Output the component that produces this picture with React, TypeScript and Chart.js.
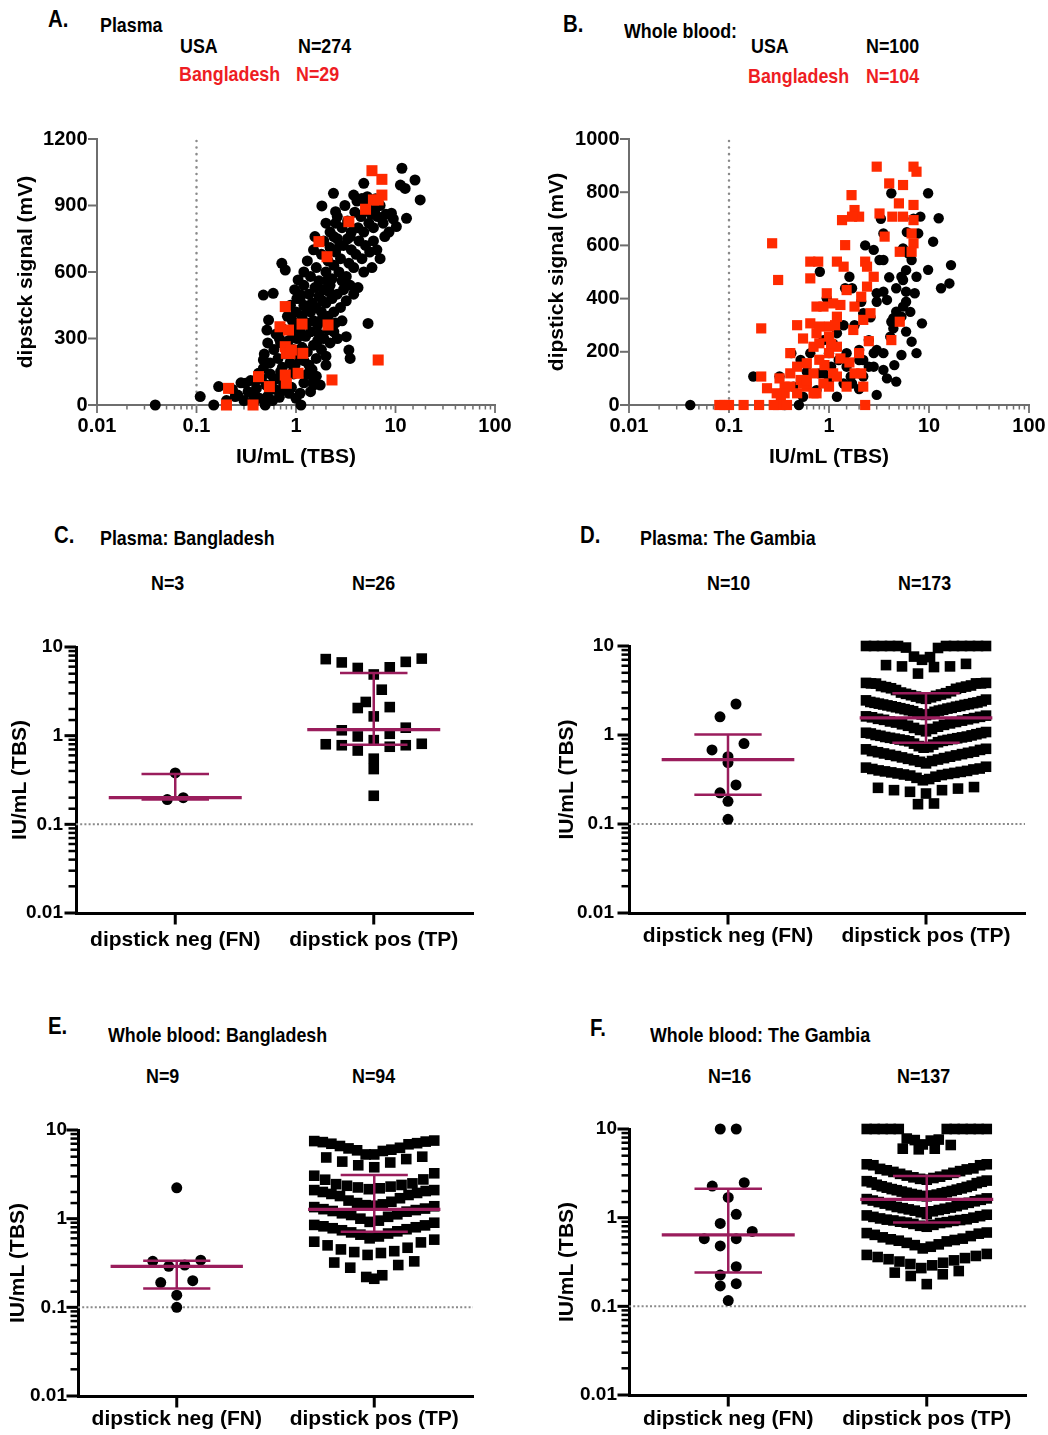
import React, { useEffect, useRef } from 'react';
import { Chart, registerables } from 'chart.js';

Chart.register(...registerables);

// ---------------- colours & fonts ----------------
const FONT = '"Liberation Sans", Arial, Helvetica, sans-serif';
const BLACK = '#000000';
const RED_MARK = '#ff2a00';
const RED_TEXT = '#ee1d23';
const BAR = '#9a1d5c';
const AXIS_GRAY = '#6e6e6e';
const DOT_GRAY = '#8a8a8a';

// ---------------- data ----------------
const CATEGORIES = ['dipstick neg (FN)', 'dipstick pos (TP)'];
const X_LOG_LABELS = ['0.01', '0.1', '1', '10', '100'];
const Y_LOG_LABELS = ['0.01', '0.1', '1', '10'];
const A_Y_MAX = 1200;
const A_Y_STEP = 300;
const B_Y_MAX = 1000;
const B_Y_STEP = 200;
const LOD = 0.1;

// Panel A: Plasma, USA (IU/mL, mV)
const A_USA: number[][] = [
  [0.0385, 0], [0.109, 38], [0.167, 83], [0.149, 0], [0.245, 38], [0.31, 98], [0.4, 113], [0.37, 45], [0.49, 0], [0.47, 203],
  [0.47, 496], [0.59, 504], [0.53, 383], [0.51, 338], [0.72, 346], [0.72, 639], [0.78, 609], [1.1, 53], [1.12, 0], [1.05, 564],
  [1.12, 496], [1.82, 898], [2.38, 955], [2.5, 872], [2.0, 820], [2.5, 820], [5.3, 368], [3.5, 210], [3.4, 248], [3.2, 308],
  [11.6, 1068], [15.7, 1015], [17.7, 925], [11.2, 992], [12.5, 977], [12.9, 842], [10.2, 805], [9.1, 865], [4.8, 1000], [3.8, 947],
  [4.6, 932], [1.75, 90], [2.0, 180], [1.5, 113], [1.5, 90], [0.85, 53], [0.74, 68], [0.6, 113], [0.47, 165], [0.42, 143],
  [0.2, 20], [0.23, 70], [0.26, 45], [0.28, 100], [0.3, 20], [0.33, 60], [0.35, 110], [0.38, 15], [0.4, 75], [0.43, 30],
  [0.45, 120], [0.5, 90], [0.52, 40], [0.55, 140], [0.58, 20], [0.62, 70], [0.65, 120], [0.68, 35], [0.7, 150], [0.75, 95],
  [0.8, 130], [0.9, 80], [0.95, 140], [1.0, 30], [1.2, 100], [1.3, 140], [1.4, 60], [1.6, 130],
  [0.48, 230], [0.52, 280], [0.55, 190], [0.6, 250], [0.63, 320], [0.66, 210], [0.7, 280], [0.73, 170], [0.76, 340], [0.8, 230],
  [0.84, 290], [0.87, 190], [0.9, 330], [0.94, 250], [0.98, 180], [1.02, 300], [1.06, 220], [1.1, 340], [1.15, 260], [1.2, 200],
  [1.25, 310], [1.3, 240], [1.35, 180], [1.4, 330], [1.5, 270], [1.6, 210], [1.7, 320], [1.8, 250], [1.9, 300], [2.0, 220],
  [2.1, 340], [2.2, 280], [2.4, 330], [2.6, 300], [0.95, 160], [1.45, 160], [0.68, 300], [1.65, 290],
  [0.82, 400], [0.88, 450], [0.92, 380], [0.97, 520], [1.0, 420], [1.05, 360], [1.1, 480], [1.15, 400], [1.2, 540], [1.25, 440],
  [1.3, 370], [1.35, 500], [1.4, 420], [1.45, 460], [1.5, 380], [1.55, 530], [1.6, 440], [1.7, 490], [1.75, 380], [1.8, 420],
  [1.9, 520], [2.0, 460], [2.1, 400], [2.2, 540], [2.3, 480], [2.4, 420], [2.6, 500], [2.8, 440], [3.0, 520], [3.2, 470],
  [3.5, 540], [3.8, 500], [4.2, 530], [2.5, 370], [2.9, 380], [1.65, 360], [1.85, 470], [2.15, 510], [1.2, 450], [1.02, 480],
  [1.2, 600], [1.3, 650], [1.4, 580], [1.5, 700], [1.6, 620], [1.7, 560], [1.8, 680], [1.9, 740], [2.0, 600], [2.1, 650],
  [2.2, 710], [2.3, 570], [2.4, 630], [2.5, 690], [2.6, 750], [2.7, 600], [2.8, 660], [3.0, 720], [3.2, 580], [3.4, 640],
  [3.6, 700], [3.8, 620], [4.0, 680], [4.3, 740], [4.6, 660], [5.0, 720], [5.5, 690], [6.0, 740], [6.5, 700], [7.0, 660],
  [1.55, 760], [2.9, 560], [3.3, 750], [4.8, 600], [5.8, 620], [2.05, 560], [2.75, 720],
  [2.2, 780], [2.6, 850], [2.9, 800], [3.1, 900], [3.3, 830], [3.6, 780], [3.9, 870], [4.2, 800], [4.5, 850], [4.8, 780],
  [5.1, 900], [5.4, 820], [5.7, 860], [6.0, 800], [6.3, 930], [6.6, 850], [7.0, 900], [7.5, 820], [8.0, 860], [8.6, 780],
  [9.5, 840], [5.2, 940], [6.2, 880], [4.1, 920], [3.5, 760], [7.8, 760], [2.4, 760],
];

// Panel A: Plasma, Bangladesh
const A_BGD: number[][] = [
  [5.8, 1057], [7.3, 1018], [7.3, 947], [6.0, 925], [6.7, 925], [5.0, 883], [3.4, 827], [1.7, 737], [2.05, 669], [0.78, 444],
  [0.69, 353], [0.84, 338], [1.15, 365], [2.1, 361], [0.78, 263], [0.8, 233], [0.87, 233], [1.17, 233], [0.9, 248], [0.78, 135],
  [0.8, 98], [1.05, 143], [6.7, 203], [2.3, 113], [0.42, 128], [0.54, 83], [0.21, 75], [0.2, 0], [0.37, 0],
];

// Panel B: Whole blood, USA
const B_USA: number[][] = [
  [0.041, 0], [0.175, 107], [0.32, 107], [0.36, 0], [0.5, 0], [0.42, 195], [0.81, 501], [0.95, 401], [1.6, 482], [1.45, 439],
  [1.7, 439], [4.2, 796], [9.8, 796], [12.5, 702], [11.0, 614], [8.2, 708], [7.8, 645], [3.5, 645], [2.8, 583], [3.2, 545],
  [3.5, 545], [5.5, 589], [7.5, 482], [9.8, 508], [16.6, 526], [16.0, 457], [13.2, 439], [8.5, 307], [5.5, 470], [4.7, 439],
  [5.9, 426], [3.5, 426], [3.0, 420], [5.9, 388], [5.5, 370], [4.7, 351], [4.2, 313], [4.4, 288], [5.9, 276], [6.7, 238],
  [5.3, 188], [4.7, 88], [3.0, 38], [1.2, 31], [1.4, 81], [1.65, 107], [1.7, 81], [2.8, 195], [2.5, 244], [2.8, 144],
  [3.5, 132], [2.5, 144], [2.2, 169], [2.0, 207], [2.0, 169], [1.5, 144], [1.25, 169], [1.0, 195], [1.05, 144], [0.88, 119],
  [0.75, 56], [0.8, 119], [1.0, 94], [1.5, 195], [2.2, 107], [3.0, 207], [3.5, 195], [4.4, 326], [5.3, 332], [4.1, 257],
  [2.1, 388], [2.2, 345], [3.8, 395], [6.7, 545], [7.5, 195], [3.0, 388], [1.2, 270], [0.88, 244], [0.65, 195], [0.6, 125],
  [0.52, 169], [0.44, 69], [0.55, 31], [6.2, 570], [5.9, 507], [5.3, 482], [7.0, 700], [6.0, 650], [4.0, 480], [2.6, 330],
  [1.8, 300], [3.3, 700], [2.3, 600], [1.4, 300], [6.5, 350], [4.5, 150], [3.8, 100], [2.0, 60], [1.1, 230], [7.2, 420],
];

// Panel B: Whole blood, Bangladesh
const B_BGD: number[][] = [
  [3.0, 896], [7.0, 896], [7.5, 877], [5.5, 827], [4.0, 833], [5.0, 758], [7.0, 752], [4.3, 708], [3.2, 720], [5.5, 708],
  [7.0, 695], [6.7, 645], [7.0, 608], [6.7, 576], [5.1, 576], [3.6, 633], [1.68, 789], [1.8, 733], [2.0, 708], [1.7, 708],
  [1.35, 695], [1.45, 601], [1.2, 539], [2.3, 539], [2.8, 482], [2.4, 445], [2.1, 407], [1.8, 370], [2.6, 345], [2.2, 320],
  [1.75, 282], [1.3, 376], [1.1, 382], [1.2, 332], [1.0, 295], [1.0, 257], [1.2, 219], [1.3, 175], [0.75, 370], [0.65, 307],
  [0.75, 270], [0.7, 219], [0.8, 170], [0.7, 119], [0.6, 69], [0.52, 94], [0.48, 300], [0.41, 195], [0.41, 119], [0.36, 69],
  [0.33, 31], [0.31, 0], [0.38, 0], [0.28, 0], [0.2, 0], [0.14, 0], [0.1, 0], [0.08, 0], [0.09, 0], [0.21, 107],
  [0.24, 63], [0.21, 288], [0.31, 470], [0.27, 608], [0.65, 476], [0.65, 539], [0.78, 539], [1.1, 119], [1.0, 69], [0.88, 81],
  [1.2, 107], [1.5, 69], [1.8, 119], [2.1, 119], [2.2, 69], [2.3, 0], [2.0, 195], [4.2, 244], [5.1, 313], [0.8, 232],
  [0.8, 295], [0.48, 144], [0.6, 157], [0.55, 81], [0.36, 44], [0.3, 44], [0.88, 370], [1.0, 195], [0.6, 94], [0.75, 44],
  [1.5, 432], [0.41, 69], [0.48, 44], [0.7, 44], [2.4, 520], [1.4, 520], [0.9, 150], [1.6, 160], [0.55, 250], [1.15, 300],
  [2.5, 240], [0.32, 100], [0.95, 420], [1.05, 230],
];

// Panel C: Plasma Bangladesh (IU/mL)
const C_NEG = [0.38, 0.19, 0.2];
const C_POS = [7.4, 6.8, 5.8, 4.9, 5.9, 6.7, 7.3, 3.3, 2.1, 2.05, 2.4, 1.65, 1.15, 1.05, 1.23, 0.8, 0.78, 0.89, 0.75, 0.78,
  0.81, 0.98, 0.68, 0.55, 0.42, 0.21];
const C_NEG_BAR = [0.2, 0.19, 0.37]; // median, low, high
const C_POS_BAR = [1.17, 0.79, 5.1];

// Panel D: Plasma The Gambia
const D_NEG = [2.23, 1.6, 0.8, 0.68, 0.57, 0.49, 0.275, 0.224, 0.18, 0.113];
const D_POS = [
  10, 10, 10, 10, 10, 10, 10, 10, 10, 10, 10, 9.6, 9.5, 7.6, 7.5,
  7.0, 6.3, 6.1, 5.9, 5.9, 5.8, 4.9,
  3.85, 3.85, 3.8, 3.8, 3.8, 3.78,
  3.6, 3.55, 3.5, 3.45, 3.4, 3.35, 3.3, 3.2, 3.1, 3.0, 2.95, 2.9, 2.85, 2.8, 2.75, 2.7, 2.65, 2.6, 2.55, 2.5, 2.45, 2.4,
  2.35, 2.32, 2.3, 2.28, 2.25, 2.22, 2.2, 2.18, 2.15, 2.12, 2.1, 2.08, 2.05, 2.02, 2.0, 1.98, 1.95, 1.92, 1.9, 1.88, 1.85, 1.82,
  1.75, 1.72, 1.7, 1.68, 1.65, 1.62, 1.6, 1.58, 1.55, 1.52, 1.5, 1.48, 1.45, 1.42, 1.4, 1.38, 1.35, 1.32, 1.3, 1.27, 1.24, 1.2, 1.17, 1.14,
  1.1, 1.08, 1.06, 1.05, 1.04, 1.02, 1.0, 0.99, 0.98, 0.96, 0.95, 0.94, 0.93, 0.92, 0.91, 0.9, 0.89, 0.88, 0.87, 0.86, 0.85, 0.83,
  0.8, 0.78,
  0.75, 0.73, 0.72, 0.7, 0.69, 0.68, 0.66, 0.65, 0.64, 0.63, 0.62, 0.61, 0.6, 0.59, 0.58, 0.57, 0.56, 0.55, 0.54, 0.53, 0.52, 0.51, 0.5, 0.48,
  0.44, 0.43, 0.42, 0.415, 0.41, 0.4, 0.395, 0.39, 0.385, 0.38, 0.375, 0.37, 0.365, 0.36, 0.355, 0.35, 0.34, 0.33, 0.32, 0.31,
  0.26, 0.255, 0.25, 0.24, 0.24, 0.23, 0.22,
  0.17, 0.167,
];
const D_NEG_BAR = [0.53, 0.213, 1.01];
const D_POS_BAR = [1.56, 0.82, 2.94];

// Panel E: Whole blood Bangladesh
const E_NEG = [2.23, 0.33, 0.29, 0.3, 0.34, 0.2, 0.19, 0.137, 0.1];
const E_POS = [
  7.6, 7.5, 7.4, 7.3, 7.1, 6.9, 6.6, 6.3, 6.0, 5.8, 5.9, 6.2, 7.0,
  5.3, 5.3, 5.0, 4.9, 4.7, 4.4, 4.3, 4.0, 3.8,
  3.25, 3.05, 2.77, 2.75,
  2.5, 2.45, 2.4, 2.35, 2.3, 2.25, 2.2, 2.15, 2.1, 2.1, 2.05, 2.0, 1.95, 1.9, 1.85, 1.8, 1.7, 1.6,
  1.55, 1.5, 1.45, 1.42, 1.4, 1.38, 1.35, 1.3, 1.28, 1.25, 1.22, 1.2, 1.15, 1.12, 1.1, 1.05,
  1.0, 0.95, 0.92, 0.9,
  0.85, 0.84, 0.82, 0.8, 0.78, 0.76, 0.74, 0.72, 0.7, 0.68, 0.66, 0.63, 0.6, 0.58,
  0.55, 0.54, 0.5, 0.47, 0.45, 0.43, 0.42, 0.41, 0.39,
  0.33, 0.32, 0.3, 0.28,
  0.23, 0.22, 0.21,
];
const E_NEG_BAR = [0.29, 0.163, 0.335];
const E_POS_BAR = [1.27, 0.71, 3.1];

// Panel F: Whole blood The Gambia
const F_NEG = [10, 10, 2.48, 2.27, 1.69, 1.09, 0.86, 0.7, 0.58, 0.58, 0.48, 0.28, 0.225, 0.18, 0.17, 0.116];
const F_POS = [
  10, 10, 10, 10, 10, 10, 10, 10, 10, 10, 10, 7.6, 7.5,
  7.8, 7.4, 6.7, 6.6, 6.0, 6.0, 5.9,
  4.0, 4.0, 3.9, 3.9,
  3.6, 3.55, 3.5, 3.42, 3.35, 3.28, 3.2, 3.12, 3.05, 2.98, 2.9, 2.85, 2.8, 2.74, 2.68, 2.62, 2.58, 2.54, 2.5, 2.45,
  2.35, 2.3, 2.26, 2.22, 2.18, 2.14, 2.1, 2.07, 2.04, 2.0, 1.97, 1.94, 1.91, 1.88, 1.85, 1.82, 1.8, 1.78, 1.76, 1.74,
  1.65, 1.62, 1.59, 1.56, 1.53, 1.5, 1.47, 1.44, 1.41, 1.38, 1.35, 1.32, 1.3, 1.28, 1.26, 1.24, 1.22, 1.2, 1.18, 1.15,
  1.1, 1.08, 1.06, 1.04, 1.02, 1.0, 0.98, 0.96, 0.95, 0.94, 0.93, 0.92, 0.9, 0.89, 0.88, 0.87, 0.85, 0.83, 0.81, 0.79,
  0.68, 0.67, 0.66, 0.64, 0.62, 0.6, 0.58, 0.57, 0.56, 0.55, 0.54, 0.52, 0.5, 0.49, 0.47, 0.45,
  0.39, 0.38, 0.37, 0.36, 0.35, 0.34, 0.33, 0.32, 0.31, 0.3, 0.29, 0.27, 0.25, 0.24, 0.23, 0.22,
  0.178,
];
const F_NEG_BAR = [0.64, 0.24, 2.12];
const F_POS_BAR = [1.61, 0.88, 2.95];

// ---------------- text labels ----------------
const LABELS: { text: string; x: number; base: number; size: number; color?: string }[] = [
  { text: 'A.', x: 48, base: 27, size: 24 },
  { text: 'Plasma', x: 100, base: 32, size: 21 },
  { text: 'USA', x: 180, base: 53, size: 21 },
  { text: 'N=274', x: 298, base: 53, size: 21 },
  { text: 'Bangladesh', x: 179, base: 81, size: 21, color: RED_TEXT },
  { text: 'N=29', x: 296, base: 81, size: 21, color: RED_TEXT },
  { text: 'B.', x: 563, base: 32, size: 24 },
  { text: 'Whole blood:', x: 624, base: 38, size: 21 },
  { text: 'USA', x: 751, base: 53, size: 21 },
  { text: 'N=100', x: 866, base: 53, size: 21 },
  { text: 'Bangladesh', x: 748, base: 83, size: 21, color: RED_TEXT },
  { text: 'N=104', x: 866, base: 83, size: 21, color: RED_TEXT },
  { text: 'C.', x: 54, base: 543, size: 24 },
  { text: 'Plasma: Bangladesh', x: 100, base: 545, size: 21 },
  { text: 'N=3', x: 151, base: 590, size: 21 },
  { text: 'N=26', x: 352, base: 590, size: 21 },
  { text: 'D.', x: 580, base: 543, size: 24 },
  { text: 'Plasma: The Gambia', x: 640, base: 545, size: 21 },
  { text: 'N=10', x: 707, base: 590, size: 21 },
  { text: 'N=173', x: 898, base: 590, size: 21 },
  { text: 'E.', x: 48, base: 1034, size: 24 },
  { text: 'Whole blood: Bangladesh', x: 108, base: 1042, size: 21 },
  { text: 'N=9', x: 146, base: 1083, size: 21 },
  { text: 'N=94', x: 352, base: 1083, size: 21 },
  { text: 'F.', x: 590, base: 1036, size: 24 },
  { text: 'Whole blood: The Gambia', x: 650, base: 1042, size: 21 },
  { text: 'N=16', x: 708, base: 1083, size: 21 },
  { text: 'N=137', x: 897, base: 1083, size: 21 },
];

// ---------------- helpers ----------------
const axisTicksPlugin = {
  id: 'axisTicks',
  beforeDatasetsDraw(chart: any, _args: any, opts: any) {
    const ctx = chart.ctx;
    ['x', 'y'].forEach((id) => {
      const o = opts[id];
      const s = chart.scales[id];
      if (!o || !s) return;
      ctx.save();
      ctx.strokeStyle = o.color;
      ctx.lineCap = 'butt';
      s.ticks.forEach((t: any) => {
        const v = t.value;
        let major = true;
        if (o.log) {
          const l = Math.log10(v);
          major = Math.abs(l - Math.round(l)) < 1e-6;
        }
        const len = major ? o.major : o.minor;
        if (!len) return;
        ctx.lineWidth = major ? o.width : o.minorWidth;
        const p = s.getPixelForValue(v);
        ctx.beginPath();
        if (id === 'x') {
          ctx.moveTo(p, s.top);
          ctx.lineTo(p, s.top + o.inset + len);
        } else {
          ctx.moveTo(s.right, p);
          ctx.lineTo(s.right - o.inset - len, p);
        }
        ctx.stroke();
      });
      ctx.restore();
    });
  },
};

function logLabel(labels: string[], minExp: number) {
  return (value: number) => {
    const l = Math.log10(value);
    const r = Math.round(l);
    if (Math.abs(l - r) > 1e-6) return '';
    return labels[r - minExp] ?? '';
  };
}

function swarm(values: number[], center: number, pxPerUnit: number, pxPerDecade: number,
  rowPx: number, gapPx: number, maxSpanPx: number) {
  const sorted = values.slice().sort((a, b) => b - a);
  const out: { x: number; y: number }[] = [];
  const rowDec = rowPx / pxPerDecade;
  let i = 0;
  while (i < sorted.length) {
    const top = Math.log10(sorted[i]);
    const row: number[] = [];
    while (i < sorted.length && top - Math.log10(sorted[i]) < rowDec) {
      row.push(sorted[i]);
      i++;
    }
    row.sort((a, b) => a - b);
    const n = row.length;
    const gap = n > 1 ? Math.min(gapPx, maxSpanPx / (n - 1)) : 0;
    const slots = Array.from({ length: n }, (_, k) => (k - (n - 1) / 2) * gap);
    slots.sort((a, b) => Math.abs(a) - Math.abs(b) || a - b);
    row.forEach((v, k) => out.push({ x: center + slots[k] / pxPerUnit, y: v }));
  }
  return out;
}

function canvasBox(p: any) {
  const [l, t, r, b] = p.area;
  const x = l - p.yW;
  const y = t - 20;
  return { x, y, w: r + p.padR - x, h: b + p.xH - y };
}

const tickFont = (size: number) => ({ family: FONT, size, weight: 'bold' as const });
const titleFont = { family: FONT, size: 21, weight: 'bold' as const, lineHeight: 1 };

function scatterConfig(p: any) {
  const box = canvasBox(p);
  const yTitlePad = p.yTitleCx - box.x - 10.5;
  const xTitlePad = box.y + box.h - p.xTitleCy - 10.5;
  return {
    type: 'scatter',
    data: {
      datasets: [
        {
          label: 'Bangladesh', data: p.bgd.map((d: number[]) => ({ x: d[0], y: d[1] })),
          pointStyle: 'rect', pointRadius: p.sqR, pointBackgroundColor: RED_MARK, backgroundColor: RED_MARK,
          pointBorderWidth: 0, borderWidth: 0, showLine: false, order: 0, clip: false,
        },
        {
          label: 'USA', data: p.usa.map((d: number[]) => ({ x: d[0], y: d[1] })),
          pointStyle: 'circle', pointRadius: p.cirR, pointBackgroundColor: BLACK, backgroundColor: BLACK,
          pointBorderWidth: 0, borderWidth: 0, showLine: false, order: 1, clip: false,
        },
        {
          type: 'line', label: 'LoD', data: [{ x: LOD, y: 0 }, { x: LOD, y: p.yMax }],
          borderColor: DOT_GRAY, borderWidth: 2.5, borderDash: [0.1, 6.5], borderCapStyle: 'round',
          pointRadius: 0, showLine: true, order: 2, clip: false,
        },
      ],
    },
    options: {
      animation: false, responsive: false, devicePixelRatio: 1, events: [],
      layout: { padding: { left: 0, top: 20, right: p.padR, bottom: 0 } },
      plugins: {
        legend: { display: false }, tooltip: { enabled: false },
        axisTicks: {
          x: { log: true, major: 8, minor: 4.5, width: 1.8, minorWidth: 1.5, color: AXIS_GRAY, inset: 0 },
          y: { log: false, major: 9, minor: 0, width: 2, minorWidth: 2, color: AXIS_GRAY, inset: 0 },
        },
      },
      scales: {
        x: {
          type: 'logarithmic', position: 'bottom', min: 0.01, max: 100,
          grid: { display: false, drawTicks: false },
          border: { display: true, color: AXIS_GRAY, width: 2 },
          ticks: {
            autoSkip: false, maxRotation: 0, minRotation: 0, padding: 9.5, color: BLACK,
            font: tickFont(20), callback: logLabel(X_LOG_LABELS, -2),
          },
          title: { display: true, text: 'IU/mL (TBS)', color: BLACK, font: titleFont, padding: { top: 0, bottom: xTitlePad } },
          afterFit: (s: any) => { s.height = p.xH; s.paddingLeft = 0; s.paddingRight = 0; s.paddingTop = 0; s.paddingBottom = 0; },
        },
        y: {
          type: 'linear', position: 'left', min: 0, max: p.yMax,
          grid: { display: false, drawTicks: false },
          border: { display: true, color: AXIS_GRAY, width: 2 },
          ticks: { stepSize: p.yStep, autoSkip: false, padding: 9.5, color: BLACK, font: tickFont(20), callback: (v: number) => String(v) },
          title: { display: true, text: p.yTitle, color: BLACK, font: titleFont, padding: { top: yTitlePad, bottom: 0 } },
          afterFit: (s: any) => { s.width = p.yW; s.paddingLeft = 0; s.paddingRight = 0; s.paddingTop = 0; s.paddingBottom = 0; },
        },
      },
    },
    plugins: [axisTicksPlugin],
  };
}

function barSets(c: number, bar: number[]) {
  const [med, lo, hi] = bar;
  const base = { type: 'line', borderColor: BAR, pointRadius: 0, showLine: true, order: 0, clip: false, borderCapStyle: 'butt' };
  return [
    { ...base, label: 'median', borderWidth: 3.2, data: [{ x: c - 0.335, y: med }, { x: c + 0.335, y: med }] },
    { ...base, label: 'high', borderWidth: 2.5, data: [{ x: c - 0.17, y: hi }, { x: c + 0.17, y: hi }] },
    { ...base, label: 'low', borderWidth: 2.5, data: [{ x: c - 0.17, y: lo }, { x: c + 0.17, y: lo }] },
    { ...base, label: 'range', borderWidth: 2.5, data: [{ x: c, y: lo }, { x: c, y: hi }] },
  ];
}

function dotConfig(p: any) {
  const box = canvasBox(p);
  const [l, t, r, b] = p.area;
  const pxPerUnit = (r - l) / 2;
  const pxPerDecade = (b - t) / 3;
  const neg = swarm(p.neg, 0, pxPerUnit, pxPerDecade, 16, 16, 120);
  const pos = swarm(p.pos, 1, pxPerUnit, pxPerDecade, 16, 16, 120);
  const yTitlePad = p.yTitleCx - box.x - 10.5;
  return {
    type: 'scatter',
    data: {
      datasets: [
        ...barSets(0, p.negBar),
        ...barSets(1, p.posBar),
        {
          label: 'FN', data: neg, pointStyle: 'circle', pointRadius: 5.5, pointBackgroundColor: BLACK,
          backgroundColor: BLACK, pointBorderWidth: 0, borderWidth: 0, showLine: false, order: 1, clip: false,
        },
        {
          label: 'TP', data: pos, pointStyle: 'rect', pointRadius: 7.5, pointBackgroundColor: BLACK,
          backgroundColor: BLACK, pointBorderWidth: 0, borderWidth: 0, showLine: false, order: 1, clip: false,
        },
        {
          type: 'line', label: 'LoD', data: [{ x: -0.5, y: LOD }, { x: 1.5, y: LOD }],
          borderColor: DOT_GRAY, borderWidth: 2, borderDash: [2, 2.2], pointRadius: 0, showLine: true, order: 2, clip: false,
        },
      ],
    },
    options: {
      animation: false, responsive: false, devicePixelRatio: 1, events: [],
      layout: { padding: { left: 0, top: 20, right: p.padR, bottom: 0 } },
      plugins: {
        legend: { display: false }, tooltip: { enabled: false },
        axisTicks: {
          x: { log: false, major: 10, minor: 0, width: 3, minorWidth: 3, color: BLACK, inset: 1.5 },
          y: { log: true, major: 10, minor: 6, width: 3, minorWidth: 2.5, color: BLACK, inset: 1.5 },
        },
      },
      scales: {
        x: {
          type: 'linear', position: 'bottom', min: -0.5, max: 1.5,
          afterBuildTicks: (s: any) => { s.ticks = CATEGORIES.map((_, i) => ({ value: i })); },
          grid: { display: false, drawTicks: false },
          border: { display: true, color: BLACK, width: 3 },
          ticks: {
            autoSkip: false, maxRotation: 0, minRotation: 0, padding: p.labelPad, color: BLACK,
            font: tickFont(21), callback: (v: number) => CATEGORIES[Math.round(v)] ?? '',
          },
          afterFit: (s: any) => { s.height = p.xH; s.paddingLeft = 0; s.paddingRight = 0; s.paddingTop = 0; s.paddingBottom = 0; },
        },
        y: {
          type: 'logarithmic', position: 'left', min: 0.01, max: 10,
          grid: { display: false, drawTicks: false },
          border: { display: true, color: BLACK, width: 3 },
          ticks: { autoSkip: false, padding: p.yTickPad, color: BLACK, font: tickFont(19), callback: logLabel(Y_LOG_LABELS, -2) },
          title: { display: true, text: 'IU/mL (TBS)', color: BLACK, font: titleFont, padding: { top: yTitlePad, bottom: 0 } },
          afterFit: (s: any) => { s.width = p.yW; s.paddingLeft = 0; s.paddingRight = 0; s.paddingTop = 0; s.paddingBottom = 0; },
        },
      },
    },
    plugins: [axisTicksPlugin],
  };
}

const PANELS: any[] = [
  { id: 'A', kind: 'scatter', area: [97, 139, 495, 405], yW: 97, xH: 70, padR: 30, yTitle: 'dipstck signal (mV)',
    yTitleCx: 26, xTitleCy: 457, usa: A_USA, bgd: A_BGD, yMax: A_Y_MAX, yStep: A_Y_STEP, sqR: 7.8, cirR: 5.5 },
  { id: 'B', kind: 'scatter', area: [629, 139, 1029, 405], yW: 90, xH: 70, padR: 18, yTitle: 'dipstick signal (mV)',
    yTitleCx: 557, xTitleCy: 457, usa: B_USA, bgd: B_BGD, yMax: B_Y_MAX, yStep: B_Y_STEP, sqR: 7.2, cirR: 5.2 },
  { id: 'C', kind: 'dot', area: [76, 647, 473, 913], yW: 76, xH: 50, padR: 30, yTitleCx: 20, labelPad: 14.5, yTickPad: 13,
    neg: C_NEG, pos: C_POS, negBar: C_NEG_BAR, posBar: C_POS_BAR },
  { id: 'D', kind: 'dot', area: [629, 646, 1025, 913], yW: 80, xH: 50, padR: 20, yTitleCx: 567, labelPad: 11, yTickPad: 15,
    neg: D_NEG, pos: D_POS, negBar: D_NEG_BAR, posBar: D_POS_BAR },
  { id: 'E', kind: 'dot', area: [78, 1130, 473, 1396], yW: 78, xH: 38, padR: 30, yTitleCx: 18, labelPad: 10.5, yTickPad: 11,
    neg: E_NEG, pos: E_POS, negBar: E_NEG_BAR, posBar: E_POS_BAR },
  { id: 'F', kind: 'dot', area: [629, 1129, 1026, 1395], yW: 80, xH: 39, padR: 20, yTitleCx: 567, labelPad: 11.4, yTickPad: 12,
    neg: F_NEG, pos: F_POS, negBar: F_NEG_BAR, posBar: F_POS_BAR },
];

function PanelChart({ spec }: { spec: any }) {
  const ref = useRef<HTMLCanvasElement>(null);
  const box = canvasBox(spec);
  useEffect(() => {
    const cfg: any = spec.kind === 'scatter' ? scatterConfig(spec) : dotConfig(spec);
    const chart = new Chart(ref.current as HTMLCanvasElement, cfg);
    return () => chart.destroy();
  }, []);
  return (
    <canvas
      ref={ref}
      width={box.w}
      height={box.h}
      style={{ position: 'absolute', left: box.x, top: box.y, width: box.w, height: box.h }}
    />
  );
}

export default function App() {
  useEffect(() => {
    document.body.style.overflow = 'hidden';
  }, []);
  return (
    <div style={{ position: 'absolute', left: 0, top: 0, width: 1048, height: 1435, background: '#ffffff', overflow: 'hidden' }}>
      {PANELS.map((p) => (
        <PanelChart key={p.id} spec={p} />
      ))}
      {LABELS.map((lb, i) => (
        <div
          key={i}
          style={{
            position: 'absolute',
            left: lb.x,
            top: lb.base - 0.8465 * lb.size,
            fontFamily: FONT,
            fontWeight: 'bold',
            fontSize: lb.size,
            lineHeight: `${lb.size}px`,
            whiteSpace: 'nowrap',
            color: lb.color || BLACK,
            transform: 'scaleX(0.85)',
            transformOrigin: '0 0',
          }}
        >
          {lb.text}
        </div>
      ))}
    </div>
  );
}
